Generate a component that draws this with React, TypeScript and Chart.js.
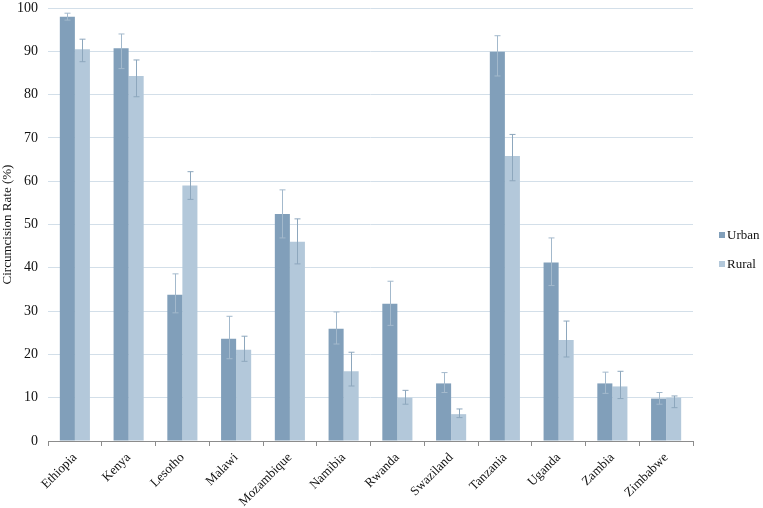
import React, { useRef, useEffect } from 'react';
import { Chart, registerables } from 'chart.js';

Chart.register(...registerables);

const countries = [
  'Ethiopia', 'Kenya', 'Lesotho', 'Malawi', 'Mozambique', 'Namibia',
  'Rwanda', 'Swaziland', 'Tanzania', 'Uganda', 'Zambia', 'Zimbabwe',
];

const urban = [98.0, 90.7, 33.8, 23.6, 52.4, 25.9, 31.7, 13.3, 89.9, 41.2, 13.3, 9.8];
const urbanLow = [97.2, 86.0, 29.6, 19.0, 46.9, 22.4, 26.7, 11.2, 84.3, 35.9, 11.0, 8.5];
const urbanHigh = [98.8, 94.0, 38.6, 28.8, 58.0, 29.8, 36.9, 15.8, 93.6, 46.9, 15.9, 11.2];

const rural = [90.5, 84.3, 59.0, 21.1, 46.0, 16.1, 10.0, 6.2, 65.8, 23.3, 12.6, 10.0];
const ruralLow = [87.6, 79.5, 55.8, 18.4, 40.9, 12.7, 8.5, 5.4, 60.1, 19.4, 9.8, 7.7];
const ruralHigh = [92.8, 88.0, 62.2, 24.2, 51.3, 20.5, 11.7, 7.4, 70.8, 27.7, 16.1, 10.4];

const urbanColor = '#819fba';
const ruralColor = '#b3c8da';

const FONT = 'Liberation Serif';

// whiskers, placed with the bar elements and the y scale
const errorBars = {
  id: 'errorBars',
  afterDatasetsDraw(chart: any) {
    const { ctx } = chart;
    const yScale = chart.scales.y;
    chart.data.datasets.forEach((ds: any, di: number) => {
      const meta = chart.getDatasetMeta(di);
      ctx.save();
      ctx.strokeStyle = ds.errorColor;
      ctx.lineWidth = 1;
      meta.data.forEach((bar: any, i: number) => {
        const x = Math.round(bar.x) + 0.5;
        const yLow = yScale.getPixelForValue(ds.errLow[i]);
        const yHigh = yScale.getPixelForValue(ds.errHigh[i]);
        ctx.beginPath();
        ctx.moveTo(x, yLow);
        ctx.lineTo(x, yHigh);
        ctx.moveTo(x - 3, yHigh);
        ctx.lineTo(x + 3, yHigh);
        ctx.moveTo(x - 3, yLow);
        ctx.lineTo(x + 3, yLow);
        ctx.stroke();
      });
      ctx.restore();
    });
  },
};

// small legend to the right of the plot, tighter than the built-in one
const sideLegend = {
  id: 'sideLegend',
  afterDraw(chart: any) {
    const { ctx, chartArea } = chart;
    const x = chartArea.right + 26;
    const y0 = chart.height / 2 - 19;
    ctx.save();
    ctx.font = `13px ${FONT}`;
    ctx.textBaseline = 'middle';
    chart.data.datasets.forEach((ds: any, i: number) => {
      const y = y0 + i * 29;
      ctx.fillStyle = ds.backgroundColor;
      ctx.fillRect(x, y - 3, 6, 6);
      ctx.fillStyle = '#111';
      ctx.fillText(ds.label, x + 8, y + 1);
    });
    ctx.restore();
  },
};

const BarChart: React.FC = () => {
  const chartRef = useRef<HTMLCanvasElement | null>(null);

  useEffect(() => {
    const ctx = chartRef.current!.getContext('2d')!;
    const chart = new Chart(ctx, {
      type: 'bar',
      data: {
        labels: countries,
        datasets: [
          {
            label: 'Urban',
            data: urban,
            backgroundColor: urbanColor,
            errLow: urbanLow,
            errHigh: urbanHigh,
            errorColor: '#a3b9cc',
          } as any,
          {
            label: 'Rural',
            data: rural,
            backgroundColor: ruralColor,
            errLow: ruralLow,
            errHigh: ruralHigh,
            errorColor: '#8da7bd',
          } as any,
        ],
      },
      options: {
        responsive: true,
        maintainAspectRatio: false,
        animation: false,
        layout: { padding: { top: 8, right: 70, left: 0, bottom: 0 } },
        datasets: {
          bar: { categoryPercentage: 0.56, barPercentage: 1 },
        },
        plugins: {
          tooltip: { enabled: false },
          legend: { display: false },
        },
        scales: {
          x: {
            afterFit: (scale: any) => {
              scale.height = 67;
              scale.paddingLeft = 0;
              scale.paddingRight = 0;
            },
            grid: {
              offset: true,
              drawOnChartArea: false,
              tickLength: 5,
              color: '#8c8c8c',
            },
            border: { color: '#8c8c8c' },
            ticks: {
              minRotation: 45,
              maxRotation: 45,
              padding: 4,
              color: '#111',
              font: { family: FONT, size: 13 },
            },
          },
          y: {
            min: 0,
            max: 100,
            afterFit: (scale: any) => {
              scale.width = 48;
              scale.paddingTop = 0;
              scale.paddingBottom = 0;
            },
            grid: { color: '#d3dfe9', drawTicks: false },
            border: { display: false },
            ticks: {
              stepSize: 10,
              padding: 10,
              color: '#111',
              font: { family: FONT, size: 14 },
            },
            title: {
              display: true,
              text: 'Circumcision Rate (%)',
              padding: 0,
              color: '#111',
              font: { family: FONT, size: 13 },
            },
          },
        },
      },
      plugins: [errorBars, sideLegend],
    });
    return () => chart.destroy();
  }, []);

  return (
    <div style={{ position: 'fixed', left: 0, top: 0, width: 763, height: 508, background: '#fff' }}>
      <canvas ref={chartRef} />
    </div>
  );
};

export default function App() {
  return <BarChart />;
}
